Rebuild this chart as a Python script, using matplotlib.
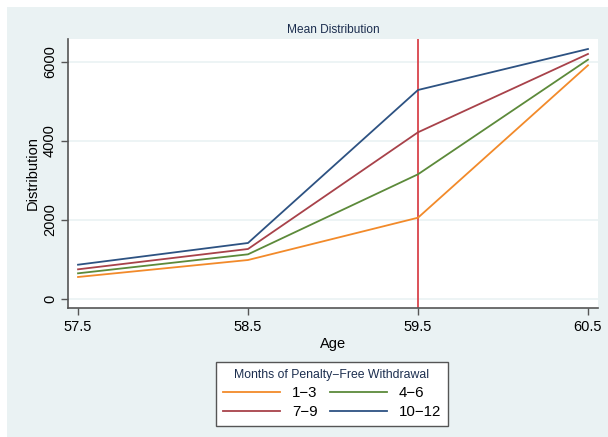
import numpy as np
import matplotlib
matplotlib.use("Agg")
import matplotlib.pyplot as plt

plt.rcParams['font.family'] = ['Liberation Sans', 'DejaVu Sans']

ages = [57.5, 58.5, 59.5, 60.5]
labels = ['1\u22123', '4\u22126', '7\u22129', '10\u221212']
m1_3 = [557, 987, 2058, 5916]
m4_6 = [650, 1131, 3157, 6058]
m7_9 = [751, 1266, 4220, 6203]
m10_12 = [868, 1418, 5291, 6329]
series = [m1_3, m4_6, m7_9, m10_12]
colors = ['#f28a2a', '#5c8a3a', '#a8424a', '#2d5282']
cutoff = 59.5

bg = '#eaf2f3'
fig = plt.figure(figsize=(6.08, 4.37), dpi=100)
fig.patch.set_facecolor('white')
# light background of the graph region (top strip stays white)
fig.patches.append(plt.Rectangle((7/608, 0), 1, 1 - 7/437, transform=fig.transFigure,
                                 facecolor=bg, edgecolor='none', zorder=-10))

ax = fig.add_axes([68/608, (437-308)/437, 530/608, 269/437])
ax.set_facecolor('white')

lines = []
for vals, c, lab in zip(series, colors, labels):
    ln, = ax.plot(ages, vals, color=c, lw=1.3, label=lab)
    lines.append(ln)
ax.axvline(cutoff, color='#d9434b', lw=1.3, zorder=1)

ax.set_xlim(57.441, 60.559)
ax.set_ylim(-228, 6582)
ax.set_xticks(ages)
ax.set_xticklabels(['57.5', '58.5', '59.5', '60.5'])
ax.set_yticks([0, 2000, 4000, 6000])
ax.set_yticklabels(['0', '2000', '4000', '6000'], rotation=90, va='center')
ax.grid(axis='y', color=bg, lw=1.2)
ax.set_axisbelow(True)

for s in ['top', 'right']:
    ax.spines[s].set_visible(False)
for s in ['left', 'bottom']:
    ax.spines[s].set_color('#555555')
    ax.spines[s].set_linewidth(1.2)
ax.tick_params(axis='both', colors='#555555', labelcolor='black', length=5,
               width=1.0, labelsize=10.5)
ax.tick_params(axis='y', pad=3)

ax.set_xlabel('Age', fontsize=10.5, labelpad=2)
ax.set_ylabel('Distribution', fontsize=10.5, labelpad=2)
ax.set_title('Mean Distribution', fontsize=8.6, color='#1c2e4f', pad=4)

order = [0, 2, 1, 3]
leg = fig.legend([lines[i] for i in order], [labels[i] for i in order],
                 ncol=2, loc='lower center', bbox_to_anchor=(332/608, 11/437),
                 borderaxespad=0,
                 title='Months of Penalty\u2212Free Withdrawal', title_fontsize=8.8,
                 fontsize=10.8, handlelength=3.8, columnspacing=0.8,
                 labelspacing=0.35, borderpad=0.45, fancybox=False,
                 framealpha=1, edgecolor='#555555')
leg.get_title().set_color('#1c2e4f')
leg.get_frame().set_linewidth(1.0)

fig.savefig('out.png', dpi=100, facecolor=fig.get_facecolor())
